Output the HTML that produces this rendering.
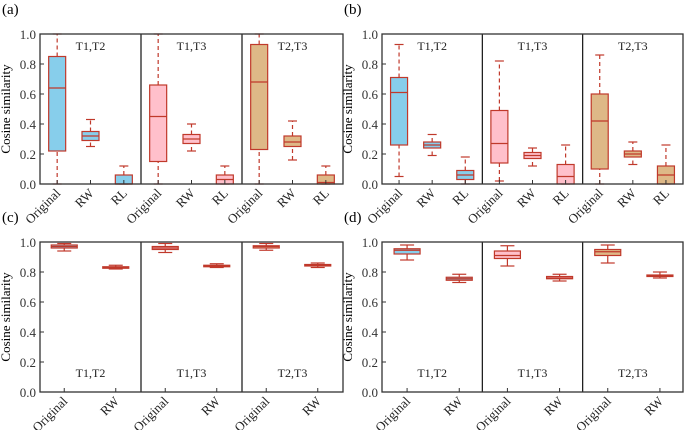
<!DOCTYPE html>
<html><head><meta charset="utf-8">
<style>
html,body{margin:0;padding:0;background:#fff;}
svg{display:block;font-family:"Liberation Serif",serif;}
</style></head>
<body>
<svg id="chart" width="685" height="430" viewBox="0 0 685 430" xmlns="http://www.w3.org/2000/svg"></svg>
<script>
// data arrays: [low whisker, q1, median, q3, high whisker]
const groupNames = ["T1,T2","T1,T3","T2,T3"];
const catsAB = ["Original","RW","RL"];
const catsCD = ["Original","RW"];
const yTicks = [0.0,0.2,0.4,0.6,0.8,1.0];
const dataA = [
 [[0,0.22,0.64,0.85,1.0],[0.25,0.29,0.32,0.35,0.43],[0,0,0,0.06,0.12]],
 [[0,0.15,0.45,0.66,1.0],[0.22,0.27,0.30,0.33,0.40],[0,0,0.03,0.06,0.12]],
 [[0,0.23,0.68,0.93,1.0],[0.16,0.25,0.28,0.32,0.42],[0,0,0.01,0.06,0.12]]
];
const dataB = [
 [[0.05,0.26,0.61,0.71,0.93],[0.19,0.24,0.26,0.28,0.33],[0,0.03,0.06,0.09,0.18]],
 [[0.02,0.14,0.27,0.49,0.82],[0.12,0.17,0.19,0.21,0.24],[0,0,0.05,0.13,0.26]],
 [[0,0.10,0.42,0.60,0.86],[0.13,0.18,0.20,0.22,0.28],[0,0,0.06,0.12,0.26]]
];
const dataC = [
 [[0.94,0.96,0.97,0.98,0.99],[0.82,0.825,0.83,0.835,0.845]],
 [[0.93,0.95,0.96,0.97,0.99],[0.83,0.835,0.84,0.845,0.855]],
 [[0.945,0.96,0.97,0.975,0.99],[0.83,0.84,0.845,0.85,0.86]]
];
const dataD = [
 [[0.88,0.92,0.945,0.955,0.98],[0.73,0.745,0.755,0.765,0.785]],
 [[0.84,0.89,0.91,0.94,0.975],[0.74,0.755,0.76,0.77,0.785]],
 [[0.86,0.91,0.935,0.95,0.98],[0.76,0.77,0.775,0.78,0.80]]
];
const fills = ["#87CEEB","#FFC0CB","#DEB887"];
const RED = "#c0392b";
const NS = "http://www.w3.org/2000/svg";
const svg = document.getElementById("chart");
function mk(tag, attrs, parent, text){
  const e = document.createElementNS(NS, tag);
  for (const k in attrs) e.setAttribute(k, attrs[k]);
  if (text !== undefined) e.textContent = text;
  (parent||svg).appendChild(e);
  return e;
}
function panel(opt){
  const g = mk("g", {});
  
  
  const L = opt.left, R = opt.right, T = opt.top, B = opt.bottom;
  const gw = (R - L) / 3;
  const y = v => B - v * (B - T);
  const pl = mk("text", {x: opt.left - 38, y: T - 20, "font-size": 15}, g, "(" + opt.label + ")");
  
  
  const yl = mk("text", {x: 0, y: 0, "font-size": 13, "text-anchor": "middle",
    transform: "translate(" + (L - 30) + "," + ((T + B) / 2) + ") rotate(-90)"}, g, "Cosine similarity");
  
  
  yTicks.forEach(t => {
    mk("line", {x1: L, x2: L + 4, y1: y(t), y2: y(t), stroke: "#333"}, g);
    const tl = mk("text", {x: L - 4, y: y(t) + 5, "font-size": 13, "text-anchor": "end", fill: "#333"}, g, t.toFixed(1));
    
    
  });
  const cats = opt.cats, n = cats.length;
  opt.data.forEach((grp, gi) => {
    const gx = L + gi * gw;
    const tt = mk("text", {x: gx + gw / 2, y: opt.titleY, "font-size": 12, "text-anchor": "middle", fill: "#222"}, g, groupNames[gi]);
    
    
    grp.forEach((s, ci) => {
      const cx = gx + opt.pos[ci] * gw;
      const w = opt.bw;
      const bg = mk("g", {}, g);
      
      
      const dash = opt.dashed ? "4,3" : "none";
      mk("line", {x1: cx, x2: cx, y1: y(s[0]), y2: y(s[1]), stroke: RED, "stroke-width": 1.2, "stroke-dasharray": dash}, bg);
      mk("line", {x1: cx, x2: cx, y1: y(s[3]), y2: y(s[4]), stroke: RED, "stroke-width": 1.2, "stroke-dasharray": dash}, bg);
      const cw = opt.capW;
      mk("line", {x1: cx - cw / 2, x2: cx + cw / 2, y1: y(s[0]), y2: y(s[0]), stroke: RED, "stroke-width": 1.2}, bg);
      mk("line", {x1: cx - cw / 2, x2: cx + cw / 2, y1: y(s[4]), y2: y(s[4]), stroke: RED, "stroke-width": 1.2}, bg);
      mk("rect", {x: cx - w / 2, y: y(s[3]), width: w, height: Math.max(1, y(s[1]) - y(s[3])), fill: fills[gi], stroke: RED, "stroke-width": 1.2}, bg);
      mk("line", {x1: cx - w / 2, x2: cx + w / 2, y1: y(s[2]), y2: y(s[2]), stroke: RED, "stroke-width": 1.2}, bg);
      mk("line", {x1: cx, x2: cx, y1: B, y2: B - 4, stroke: "#333"}, g);
      const xl = mk("text", {x: 0, y: 0, "font-size": 13, "text-anchor": "end", fill: "#222",
        transform: "translate(" + (cx + 4) + "," + (B + 10) + ") rotate(-45)"}, g, cats[ci]);
      
      
    });
    if (gi > 0) mk("line", {x1: gx, x2: gx, y1: T, y2: B, stroke: "#111", "stroke-width": 1.2}, g);
  });
  mk("rect", {x: L, y: T, width: R - L, height: B - T, fill: "none", stroke: "#333", "stroke-width": 1.3}, g);
}
panel({label:"a", left:40, right:343, top:34, bottom:184, data:dataA, cats:catsAB, pos:[0.17,0.5,0.83], bw:17, capW:9, dashed:true, titleY:50});
panel({label:"b", left:382, right:683, top:34, bottom:184, data:dataB, cats:catsAB, pos:[0.17,0.5,0.83], bw:17, capW:9, dashed:true, titleY:50});
panel({label:"c", left:40, right:343, top:242, bottom:392, data:dataC, cats:catsCD, pos:[0.24,0.75], bw:26, capW:14, dashed:false, titleY:377});
panel({label:"d", left:382, right:683, top:242, bottom:392, data:dataD, cats:catsCD, pos:[0.25,0.77], bw:26, capW:14, dashed:false, titleY:377});
</script>
</body></html>
